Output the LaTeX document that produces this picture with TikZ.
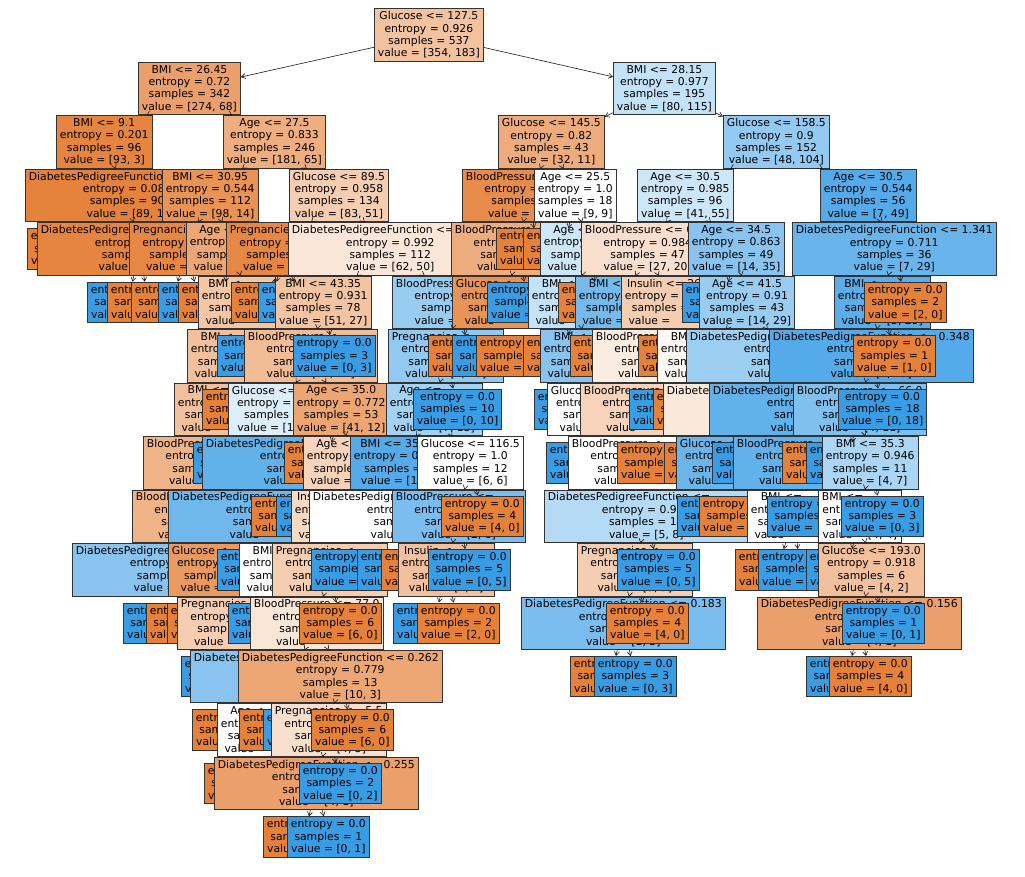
\documentclass[tikz,border=0pt]{standalone}
\usepackage{fontspec}
\setmainfont{DejaVu Sans}
\usetikzlibrary{arrows.meta}
\definecolor{co}{RGB}{229,129,57}
\definecolor{cb}{RGB}{57,157,229}
\newcommand\hdx[1]{\phantom{#1}}
\newcommand\lfx[2]{entropy = 0.0\\samples = #1\\value = #2}
\newcommand\lfu{\lfx{\hdx{0}}{\hdx{[0, 0]}}}
\newcommand\iu[1]{#1\\entropy = \hdx{0.000}\\samples = \hdx{00}\\value = \hdx{[00, 0]}}
\begin{document}
\begin{tikzpicture}[x=1pt,y=-1pt,
 tbox/.style={draw=black!80, line width=0.8pt, align=center, anchor=west, inner xsep=3.5pt, inner ysep=0pt, font=\fontsize{10.8}{12.4}\selectfont},
 inode/.style={tbox, minimum height=52.5pt},
 leaf/.style={tbox, minimum height=40.5pt},
 fo/.style={fill=co!#1!white}, fb/.style={fill=cb!#1!white},
 arr/.style={-{Straight Barb[length=4pt,width=5pt]}, line width=0.6pt, black!90}]
\fill[white] (0,0) rectangle (1025,877);
\useasboundingbox (0,0) rectangle (1025,877);
% row 0
\node[inode,fo=48] (r0) at (374,35) {Glucose <= 127.5\\entropy = 0.926\\samples = 537\\value = [354, 183]};
% row 1
\node[inode,fo=75] (r1a) at (138,88.5) {BMI <= 26.45\\entropy = 0.72\\samples = 342\\value = [274, 68]};
\node[inode,fb=30] (r1b) at (613,88.5) {BMI <= 28.15\\entropy = 0.977\\samples = 195\\value = [80, 115]};
% row 2
\node[inode,fo=97] (r2a) at (56,141.9) {BMI <= 9.1\\entropy = 0.201\\samples = 96\\value = [93, 3]};
\node[inode,fo=64] (r2b) at (223,141.9) {Age <= 27.5\\entropy = 0.833\\samples = 246\\value = [181, 65]};
\node[inode,fo=66] (r2c) at (498,141.9) {Glucose <= 145.5\\entropy = 0.82\\samples = 43\\value = [32, 11]};
\node[inode,fb=54] (r2d) at (723,141.9) {Glucose <= 158.5\\entropy = 0.9\\samples = 152\\value = [48, 104]};
% row 3
\node[inode,fo=99] (r3a) at (25,195.4) {DiabetesPedigreeFunction <= \hdx{0.000}\\entropy = 0.088\\samples = 90\\value = [89, 1]};
\node[inode,fo=86] (r3b) at (162,195.4) {BMI <= 30.95\\entropy = 0.544\\samples = 112\\value = [98, 14]};
\node[inode,fo=39] (r3c) at (289,195.4) {Glucose <= 89.5\\entropy = 0.958\\samples = 134\\value = [83, 51]};
\node[inode,fo=91] (r3d) at (462,195.4) {BloodPressure <= \hdx{00.0}\\entropy = 0.402\\samples = 25\\value = [23, 2]};
\node[inode,fill=white] (r3e) at (534,195.4) {Age <= 25.5\\entropy = 1.0\\samples = 18\\value = [9, 9]};
\node[inode,fb=25] (r3f) at (637,195.4) {Age <= 30.5\\entropy = 0.985\\samples = 96\\value = [41, 55]};
\node[inode,fb=86] (r3g) at (820,195.4) {Age <= 30.5\\entropy = 0.544\\samples = 56\\value = [7, 49]};
% row 4
\node[leaf,fo=100] (r4a) at (27,248.9) {\lfu};
\node[inode,fo=97] (r4b) at (37,248.9) {\iu{DiabetesPedigreeFunction <= \hdx{0.000}}};
\node[inode,fo=95] (r4c) at (129,248.9) {\iu{Pregnancies <= \hdx{0.0}}};
\node[inode,fo=70] (r4d) at (186,248.9) {\iu{Age <= \hdx{00.0}}};
\node[inode,fo=95] (r4e) at (226,248.9) {Pregnancies <= \hdx{0.0}\\entropy = 0.267\\samples = 22\\value = [21, 1]};
\node[inode,fo=19] (r4f) at (288,248.9) {DiabetesPedigreeFunction <= \hdx{0.000}\\entropy = 0.992\\samples = 112\\value = [62, 50]};
\node[inode,fo=65] (r4g) at (451,248.9) {\iu{BloodPressure <= \hdx{00.0}}};
\node[leaf,fo=100] (r4h) at (496,248.9) {\lfu};
\node[leaf,fo=100] (r4i) at (523,248.9) {\lfu};
\node[inode,fb=25] (r4j) at (540,248.9) {\iu{Age <= \hdx{00.0}}};
\node[inode,fo=26] (r4k) at (581,248.9) {BloodPressure <= 6\hdx{0.0}\\entropy = 0.984\\samples = 47\\value = [27, 20]};
\node[inode,fb=60] (r4l) at (688,248.9) {Age <= 34.5\\entropy = 0.863\\samples = 49\\value = [14, 35]};
\node[inode,fb=76] (r4m) at (792,248.9) {DiabetesPedigreeFunction <= 1.341\\entropy = 0.711\\samples = 36\\value = [7, 29]};
% row 5
\node[leaf,fb=100] (r5a) at (87,302.4) {\lfu};
\node[leaf,fo=100] (r5b) at (107,302.4) {\lfu};
\node[leaf,fo=100] (r5c) at (131,302.4) {\lfu};
\node[leaf,fb=100] (r5d) at (158,302.4) {\lfu};
\node[leaf,fo=100] (r5e) at (178,302.4) {\lfu};
\node[inode,fo=45] (r5f) at (198,302.4) {\iu{BMI <= \hdx{00}.45}};
\node[leaf,fo=100] (r5g) at (231,302.4) {\lfu};
\node[leaf,fb=100] (r5h) at (258,302.4) {\lfu};
\node[inode,fo=47] (r5i) at (275,302.4) {BMI <= 43.35\\entropy = 0.931\\samples = 78\\value = [51, 27]};
\node[inode,fb=52] (r5j) at (392,302.4) {BloodPressure <= \hdx{00.0}\\entropy = 0.908\\samples = 34\\value = [11, 23]};
\node[inode,fo=85] (r5k) at (452,302.4) {\iu{Glucose <= \hdx{000.0}}};
\node[leaf,fb=100] (r5l) at (487,302.4) {\lfu};
\node[inode,fb=30] (r5m) at (528,302.4) {\iu{BMI <= \hdx{00.0}}};
\node[leaf,fo=100] (r5n) at (558,302.4) {\lfu};
\node[inode,fb=70] (r5o) at (575,302.4) {\iu{BMI <= \hdx{00.0}}};
\node[inode,fo=40] (r5p) at (621,302.4) {\iu{Insulin <= 26\hdx{.5}}};
\node[leaf,fb=100] (r5q) at (682,302.4) {\lfx{6}{[0, 6]}};
\node[inode,fb=52] (r5r) at (699,302.4) {Age <= 41.5\\entropy = 0.91\\samples = 43\\value = [14, 29]};
\node[inode,fb=83] (r5s) at (834,302.4) {BMI <= \hdx{00.00}\\entropy = 0.602\\samples = 34\\value = [5, 29]};
\node[leaf,fo=100] (r5t) at (864,302.4) {\lfx{2}{[2, 0]}};
% row 6
\node[inode,fo=50] (r6a) at (187,355.8) {\iu{BMI <= \hdx{00.0}}};
\node[leaf,fb=100] (r6b) at (217,355.8) {\lfu};
\node[inode,fo=53] (r6c) at (244,355.8) {BloodPressure <= \hdx{67.0}\\entropy = 0.904\\samples = 75\\value = [51, 24]};
\node[leaf,fb=100] (r6d) at (293,355.8) {\lfx{3}{[0, 3]}};
\node[inode,fb=55] (r6e) at (388,355.8) {Pregnancies <= \hdx{0.5}\\entropy = 0.784\\samples = 30\\value = [7, 23]};
\node[leaf,fo=100] (r6f) at (428,355.8) {\lfx{4}{[4, 0]}};
\node[leaf,fb=100] (r6g) at (452,355.8) {\lfu};
\node[leaf,fo=100] (r6h) at (476,355.8) {\lfu};
\node[leaf,fo=100] (r6i) at (523,355.8) {\lfu};
\node[inode,fb=60] (r6j) at (540,355.8) {\iu{BMI <= \hdx{00.0}}};
\node[leaf,fo=100] (r6k) at (570,355.8) {\lfu};
\node[inode,fo=15] (r6l) at (592,355.8) {\iu{BloodPressure <= \hdx{00.0}}};
\node[leaf,fo=100] (r6m) at (638,355.8) {\lfu};
\node[inode,fo=5] (r6n) at (657,355.8) {\iu{BMI <= \hdx{00.0}}};
\node[inode,fb=50] (r6o) at (686,355.8) {\iu{DiabetesPedigreeFunction <= \hdx{0.000}}};
\node[inode,fb=86] (r6p) at (769,355.8) {DiabetesPedigreeFunction <= 0.348\\entropy = 0.533\\samples = 33\\value = [4, 29]};
\node[leaf,fo=100] (r6q) at (853,355.8) {\lfx{1}{[1, 0]}};
% row 7
\node[inode,fo=50] (r7a) at (174,409.3) {\iu{BMI <= \hdx{00.0}}};
\node[leaf,fo=100] (r7b) at (202,409.3) {\lfu};
\node[inode,fb=17] (r7c) at (228,409.3) {Glucose <= \hdx{000.0}\\entropy = 0.994\\samples = 22\\value = [10, 12]};
\node[inode,fo=71] (r7d) at (293,409.3) {Age <= 35.0\\entropy = 0.772\\samples = 53\\value = [41, 12]};
\node[inode,fb=46] (r7e) at (386,409.3) {Age <= \hdx{00.5}\\entropy = 0.934\\samples = 20\\value = [7, 13]};
\node[leaf,fb=100] (r7f) at (413,409.3) {\lfx{10}{[0, 10]}};
\node[leaf,fb=100] (r7g) at (534,409.3) {\lfu};
\node[inode,fill=white] (r7h) at (547,409.3) {\iu{Glucose <= \hdx{000.0}}};
\node[inode,fo=35] (r7i) at (580,409.3) {\iu{BloodPressure <= \hdx{00.0}}};
\node[leaf,fb=100] (r7j) at (629,409.3) {\lfu};
\node[leaf,fo=100] (r7k) at (653,409.3) {\lfu};
\node[inode,fo=18] (r7l) at (663,409.3) {\iu{DiabetesPedigreeFunction <= \hdx{0.000}}};
\node[inode,fb=80] (r7m) at (709,409.3) {\iu{DiabetesPedigreeFunction <= \hdx{0.000}}};
\node[inode,fb=64] (r7n) at (793,409.3) {BloodPressure <= 66.0\\entropy = 0.837\\samples = 15\\value = [4, 11]};
\node[leaf,fb=100] (r7o) at (838,409.3) {\lfx{18}{[0, 18]}};
% row 8
\node[inode,fo=60] (r8a) at (143,462.8) {\iu{BloodPressure <= \hdx{00.0}}};
\node[leaf,fb=100] (r8b) at (193,462.8) {\lfu};
\node[inode,fb=80] (r8c) at (202,462.8) {\iu{DiabetesPedigreeFunction <= \hdx{0.000}}};
\node[leaf,fo=100] (r8d) at (284,462.8) {\lfu};
\node[inode,fo=35] (r8e) at (303,462.8) {\iu{Age <= \hdx{00.0}}};
\node[inode,fb=86] (r8f) at (350,462.8) {BMI <= 35\hdx{.00}\\entropy = 0.544\\samples = 8\\value = [1, 7]};
\node[inode,fill=white] (r8g) at (417,462.8) {Glucose <= 116.5\\entropy = 1.0\\samples = 12\\value = [6, 6]};
\node[leaf,fb=100] (r8h) at (546,462.8) {\lfu};
\node[inode,fill=white] (r8i) at (568,462.8) {\iu{BloodPressure <= \hdx{00.0}}};
\node[leaf,fo=100] (r8j) at (617,462.8) {\lfu};
\node[leaf,fo=100] (r8k) at (664,462.8) {\lfu};
\node[inode,fb=75] (r8l) at (676,462.8) {\iu{Glucose <= \hdx{000.0}}};
\node[leaf,fb=100] (r8m) at (712,462.8) {\lfu};
\node[inode,fb=80] (r8n) at (733,462.8) {\iu{BloodPressure <= \hdx{00.0}}};
\node[leaf,fo=100] (r8o) at (782,462.8) {\lfu};
\node[leaf,fb=100] (r8p) at (806,462.8) {\lfx{4}{[0, 4]}};
\node[inode,fb=43] (r8q) at (822,462.8) {BMI <= 35.3\\entropy = 0.946\\samples = 11\\value = [4, 7]};
% row 9
\node[inode,fo=60] (r9a) at (132,516.2) {\iu{BloodPressure <= \hdx{00.0}}};
\node[inode,fb=72] (r9b) at (168,516.2) {\iu{DiabetesPedigreeFunction <= \hdx{0.000}}};
\node[leaf,fo=100] (r9c) at (251,516.2) {\lfu};
\node[leaf,fb=100] (r9d) at (276,516.2) {\lfu};
\node[inode,fo=30] (r9e) at (291,516.2) {\iu{Insulin <= \hdx{00.0}}};
\node[inode,fill=white] (r9f) at (309,516.2) {\iu{DiabetesPedigreeFunction <= \hdx{0.000}}};
\node[inode,fb=67] (r9g) at (392,516.2) {BloodPressure <= \hdx{00.0}\\entropy = 0.811\\samples = 8\\value = [2, 6]};
\node[leaf,fo=100] (r9h) at (441,516.2) {\lfx{4}{[4, 0]}};
\node[inode,fb=38] (r9i) at (544,516.2) {DiabetesPedigreeFunction <= \hdx{0.000}\\entropy = 0.961\\samples = 13\\value = [5, 8]};
\node[leaf,fb=100] (r9j) at (677,516.2) {\lfu};
\node[leaf,fo=100] (r9k) at (699,516.2) {\lfu};
\node[inode,fill=white] (r9l) at (747,516.2) {\iu{BMI <= \hdx{00.0}}};
\node[leaf,fb=100] (r9m) at (767,516.2) {\lfu};
\node[inode,fill=white] (r9n) at (818,516.2) {BMI <= \hdx{00.00}\\entropy = 1.0\\samples = 8\\value = [4, 4]};
\node[leaf,fb=100] (r9o) at (841,516.2) {\lfx{3}{[0, 3]}};
% row 10
\node[inode,fb=60] (r10a) at (72,569.7) {\iu{DiabetesPedigreeFunction <= \hdx{0.000}}};
\node[inode,fo=80] (r10b) at (168,569.7) {\iu{Glucose <= \hdx{000.0}}};
\node[leaf,fb=100] (r10c) at (217,569.7) {\lfu};
\node[inode,fill=white] (r10d) at (239,569.7) {\iu{BMI <= \hdx{00.0}}};
\node[inode,fo=40] (r10e) at (272,569.7) {\iu{Pregnancies <= \hdx{0.5}}};
\node[leaf,fb=100] (r10f) at (311,569.7) {\lfu};
\node[leaf,fb=100] (r10g) at (357,569.7) {\lfu};
\node[leaf,fo=100] (r10h) at (381,569.7) {\lfu};
\node[inode,fo=50] (r10i) at (398,569.7) {Insulin <= \hdx{00.0}\\entropy = 0.918\\samples = 3\\value = [2, 1]};
\node[leaf,fb=100] (r10j) at (428,569.7) {\lfx{5}{[0, 5]}};
\node[inode,fo=40] (r10k) at (577,569.7) {Pregnancies <= \hdx{0.5}\\entropy = 0.954\\samples = 8\\value = [5, 3]};
\node[leaf,fb=100] (r10l) at (617,569.7) {\lfx{5}{[0, 5]}};
\node[leaf,fo=100] (r10m) at (735,569.7) {\lfu};
\node[leaf,fb=100] (r10n) at (758,569.7) {\lfu};
\node[leaf,fb=100] (r10o) at (806,569.7) {\lfx{2}{[0, 2]}};
\node[inode,fo=50] (r10p) at (818,569.7) {Glucose <= 193.0\\entropy = 0.918\\samples = 6\\value = [4, 2]};
% row 11
\node[leaf,fb=100] (r11a) at (123,623.2) {\lfu};
\node[leaf,fo=100] (r11b) at (146,623.2) {\lfu};
\node[leaf,fo=100] (r11c) at (167,623.2) {\lfu};
\node[inode,fo=40] (r11d) at (177,623.2) {\iu{Pregnancies <= \hdx{0.5}}};
\node[leaf,fb=100] (r11e) at (228,623.2) {\lfu};
\node[inode,fo=20] (r11f) at (250,623.2) {\iu{BloodPressure <= 77.0}};
\node[leaf,fo=100] (r11g) at (299,623.2) {\lfx{6}{[6, 0]}};
\node[leaf,fb=100] (r11h) at (393,623.2) {\lfx{1}{[0, 1]}};
\node[leaf,fo=100] (r11i) at (417,623.2) {\lfx{2}{[2, 0]}};
\node[inode,fb=67] (r11j) at (521,623.2) {DiabetesPedigreeFunction <= 0.183\\entropy = 0.811\\samples = 4\\value = [1, 3]};
\node[leaf,fo=100] (r11k) at (606,623.2) {\lfx{4}{[4, 0]}};
\node[inode,fo=75] (r11l) at (757,623.2) {DiabetesPedigreeFunction <= 0.156\\entropy = 0.722\\samples = 5\\value = [4, 1]};
\node[leaf,fb=100] (r11m) at (842,623.2) {\lfx{1}{[0, 1]}};
% row 12
\node[leaf,fb=100] (r12a) at (181,676.6) {\lfu};
\node[inode,fb=60] (r12b) at (190,676.6) {\iu{DiabetesPedigreeFunction <= \hdx{0.000}}};
\node[inode,fo=70] (r12c) at (238,676.6) {DiabetesPedigreeFunction <= 0.262\\entropy = 0.779\\samples = 13\\value = [10, 3]};
\node[leaf,fo=100] (r12d) at (570,676.6) {\lfx{1}{[1, 0]}};
\node[leaf,fb=100] (r12e) at (594,676.6) {\lfx{3}{[0, 3]}};
\node[leaf,fb=100] (r12f) at (806,676.6) {\lfx{1}{[0, 1]}};
\node[leaf,fo=100] (r12g) at (829,676.6) {\lfx{4}{[4, 0]}};
% row 13
\node[leaf,fo=100] (r13a) at (192,730.1) {\lfu};
\node[inode,fill=white] (r13b) at (217,730.1) {\iu{Age <= \hdx{00.0}}};
\node[leaf,fo=100] (r13c) at (239,730.1) {\lfu};
\node[leaf,fb=100] (r13d) at (263,730.1) {\lfu};
\node[inode,fo=25] (r13e) at (271,730.1) {Pregnancies <= 5.5\\entropy = 0.985\\samples = 7\\value = [4, 3]};
\node[leaf,fo=100] (r13f) at (311,730.1) {\lfx{6}{[6, 0]}};
% row 14
\node[leaf,fo=100] (r14a) at (204,783.6) {\lfu};
\node[inode,fo=75] (r14b) at (214,783.6) {DiabetesPedigreeFunction <= 0.255\\entropy = 0.722\\samples = 5\\value = [4, 1]};
\node[leaf,fb=100] (r14c) at (299,783.6) {\lfx{2}{[0, 2]}};
% row 15
\node[leaf,fo=100] (r15a) at (263,837) {\lfx{4}{[4, 0]}};
\node[leaf,fb=100] (r15b) at (287,837) {\lfx{1}{[0, 1]}};
% connectors
\foreach \a/\b in {r0/r1a,r0/r1b,r1a/r2a,r1a/r2b,r1b/r2c,r1b/r2d,r2a/r3a,r2b/r3b,r2b/r3c,
 r2c/r3d,r2c/r3e,r2d/r3f,r2d/r3g,r3a/r4b,r3b/r4c,r3b/r4d,r3c/r4e,r3c/r4f,r3d/r4g,r3d/r4h,
 r3e/r4i,r3e/r4j,r3f/r4k,r3f/r4l,r3g/r4m,r4b/r5a,r4b/r5b,r4c/r5c,r4c/r5d,r4d/r5e,r4d/r5f,
 r4e/r5g,r4e/r5h,r4f/r5i,r4f/r5j,r4g/r5k,r4g/r5l,r4j/r5m,r4j/r5n,r4k/r5o,r4k/r5p,r4l/r5q,
 r4l/r5r,r4m/r5s,r4m/r5t,r5i/r6c,r5i/r6d,r5j/r6e,r5j/r6f,r5m/r6i,r5m/r6j,r5r/r6n,r5r/r6o,
 r5s/r6p,r5s/r6q,r6c/r7c,r6c/r7d,r6e/r7e,r6e/r7f,r6p/r7n,r6p/r7o,r7e/r8f,r7e/r8g,r7d/r8d,
 r7d/r8e,r7n/r8p,r7n/r8q,r8g/r9g,r8g/r9h,r8q/r9n,r8q/r9o,r9g/r10i,r9g/r10j,r9i/r10k,
 r9i/r10l,r9l/r10m,r9l/r10n,r9n/r10o,r9n/r10p,r10i/r11h,r10i/r11i,r10k/r11j,r10k/r11k,
 r10p/r11l,r10p/r11m,r10e/r11f,r10e/r11g,r11f/r12b,r11f/r12c,r11j/r12d,r11j/r12e,
 r11l/r12f,r11l/r12g,r12c/r13e,r12c/r13f,r13e/r14b,r13e/r14c,r14b/r15a,r14b/r15b}
 \draw[arr] (\a) -- (\b);
\end{tikzpicture}
\end{document}
